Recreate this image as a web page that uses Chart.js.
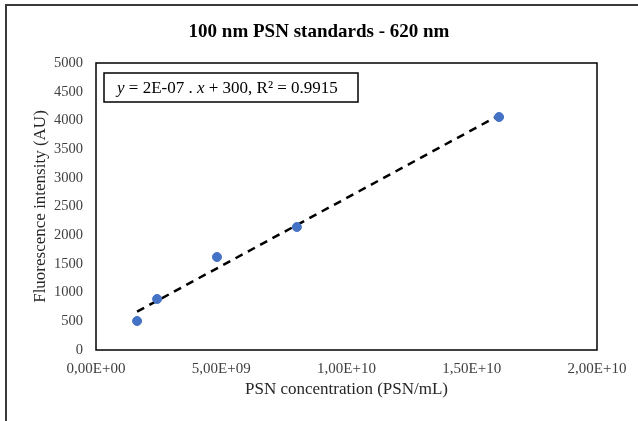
<!DOCTYPE html>
<html>
<head>
<meta charset="utf-8">
<script src="https://cdn.jsdelivr.net/npm/chart.js@4.4.1/dist/chart.umd.min.js"></script>
<style>
  html, body { margin: 0; padding: 0; background: #ffffff; }
  #wrap { width: 638px; height: 421px; position: relative; }
</style>
</head>
<body>
<div id="wrap"><canvas id="c" width="638" height="421"></canvas></div>
<script>
// ---- Data ----
const chartTitle = "100 nm PSN standards - 620 nm";
const xAxisTitle = "PSN concentration (PSN/mL)";
const yAxisTitle = "Fluorescence intensity (AU)";
const concentrations = [1.64e9, 2.44e9, 4.83e9, 8.02e9, 1.609e10];
const intensities   = [505, 889, 1620, 2143, 4059];
const xTicks = [0, 5e9, 1e10, 1.5e10, 2e10];
const xTickLabels = ["0,00E+00", "5,00E+09", "1,00E+10", "1,50E+10", "2,00E+10"];
const yTicks = [0, 500, 1000, 1500, 2000, 2500, 3000, 3500, 4000, 4500, 5000];
const equationParts = [
  { t: "y", italic: true }, { t: " = 2E-07 . ", italic: false },
  { t: "x", italic: true }, { t: " + 300, R² = 0.9915", italic: false }
];

// Linear least-squares trendline derived from the data points
function linFit(xs, ys) {
  const n = xs.length;
  const mx = xs.reduce((a, b) => a + b, 0) / n;
  const my = ys.reduce((a, b) => a + b, 0) / n;
  let sxy = 0, sxx = 0;
  for (let i = 0; i < n; i++) { sxy += (xs[i] - mx) * (ys[i] - my); sxx += (xs[i] - mx) ** 2; }
  const m = sxy / sxx;
  return { m, b: my - m * mx };
}
const fit = linFit(concentrations, intensities);
const xMin = Math.min(...concentrations), xMax = Math.max(...concentrations);
const trend = [xMin, xMax].map(x => ({ x, y: fit.m * x + fit.b }));
const points = concentrations.map((x, i) => ({ x, y: intensities[i] }));

const SERIF = "'Liberation Serif', 'Times New Roman', serif";

const framePlugin = {
  id: 'frame',
  beforeDraw(chart) {
    const ctx = chart.ctx;
    ctx.save();
    ctx.fillStyle = '#ffffff';
    ctx.fillRect(0, 0, chart.width, chart.height);
    ctx.strokeStyle = '#3a3a3a';
    ctx.lineWidth = 2;
    ctx.beginPath();
    ctx.moveTo(6, chart.height);
    ctx.lineTo(6, 5);
    ctx.lineTo(chart.width, 5);
    ctx.stroke();
    // chart title, centred on the whole picture
    ctx.fillStyle = '#000000';
    ctx.font = 'bold 19px ' + SERIF;
    ctx.textAlign = 'center';
    ctx.textBaseline = 'middle';
    ctx.fillText(chartTitle, chart.width / 2, 32);
    ctx.restore();
  },
  afterDraw(chart) {
    const ctx = chart.ctx;
    const a = chart.chartArea;
    ctx.save();
    ctx.strokeStyle = '#000000';
    ctx.lineWidth = 1.5;
    ctx.strokeRect(a.left, a.top, a.right - a.left, a.bottom - a.top);
    // equation box
    const bx = a.left + 8, by = a.top + 10, bw = 254, bh = 29;
    ctx.lineWidth = 1.5;
    ctx.strokeRect(bx, by, bw, bh);
    ctx.fillStyle = '#000000';
    ctx.textBaseline = 'middle';
    let tx = bx + 13;
    const ty = by + bh / 2 + 1;
    for (const p of equationParts) {
      ctx.font = (p.italic ? 'italic ' : '') + '17px ' + SERIF;
      ctx.fillText(p.t, tx, ty);
      tx += ctx.measureText(p.t).width;
    }
    ctx.restore();
  }
};

new Chart(document.getElementById('c'), {
  type: 'scatter',
  data: {
    datasets: [
      {
        label: 'Trendline',
        data: trend,
        showLine: true,
        borderColor: '#000000',
        borderWidth: 2.5,
        borderDash: [8, 6],
        pointRadius: 0,
        fill: false,
        order: 2
      },
      {
        label: 'Standards',
        data: points,
        backgroundColor: '#4472C4',
        borderColor: '#4472C4',
        pointRadius: 4.5,
        pointHoverRadius: 4.5,
        order: 1
      }
    ]
  },
  options: {
    responsive: false,
    animation: false,
    layout: { padding: { top: 63, right: 41, bottom: 0, left: 0 } },
    plugins: {
      legend: { display: false },
      tooltip: { enabled: false },
      title: { display: false }
    },
    scales: {
      x: {
        type: 'linear',
        min: 0, max: 2e10,
        afterBuildTicks(scale) { scale.ticks = xTicks.map(v => ({ value: v })); },
        afterFit(scale) { scale.height = 71; },
        grid: { display: false, drawTicks: false },
        border: { display: false },
        ticks: {
          padding: 10,
          color: '#404040',
          font: { family: SERIF, size: 15 },
          maxRotation: 0,
          callback(v) { const i = xTicks.indexOf(v); return i >= 0 ? xTickLabels[i] : ''; }
        },
        title: {
          display: true, text: xAxisTitle, color: '#262626',
          font: { family: SERIF, size: 17 },
          padding: { top: 21, bottom: 21 }
        }
      },
      y: {
        type: 'linear',
        min: 0, max: 5000,
        afterBuildTicks(scale) { scale.ticks = yTicks.map(v => ({ value: v })); },
        afterFit(scale) { scale.width = 96; },
        grid: { display: false, drawTicks: false },
        border: { display: false },
        ticks: {
          padding: 13,
          color: '#404040',
          font: { family: SERIF, size: 14.5 },
          callback(v) { return String(v); }
        },
        title: {
          display: true, text: yAxisTitle, color: '#262626',
          font: { family: SERIF, size: 17 },
          padding: { top: 30, bottom: 30 }
        }
      }
    }
  },
  plugins: [framePlugin]
});
</script>
</body>
</html>
